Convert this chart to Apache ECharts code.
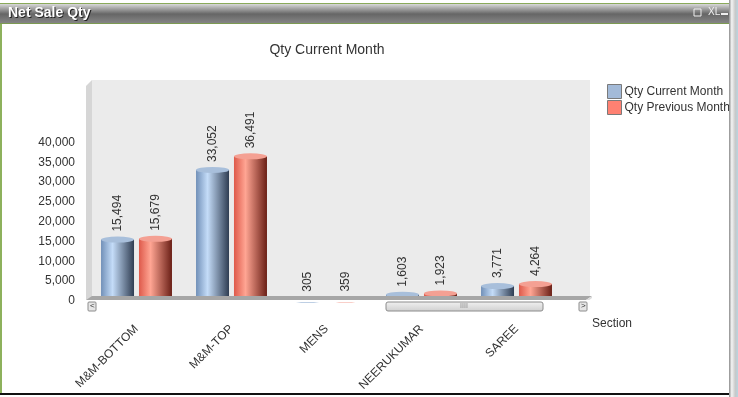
<!DOCTYPE html>
<html>
<head>
<meta charset="utf-8">
<script src="https://cdn.jsdelivr.net/npm/echarts@6/dist/echarts.min.js"></script>
<style>
html, body { margin: 0; padding: 0; background: #fff; }
#main { width: 738px; height: 397px; }
</style>
</head>
<body>
<div id="main"></div>
<script>
// 数据
var sections = ['M&M-BOTTOM', 'M&M-TOP', 'MENS', 'NEERUKUMAR', 'SAREE'];
var qtyCurrent = [15494, 33052, 305, 1603, 3771];
var qtyPrevious = [15679, 36491, 359, 1923, 4264];
var seriesNames = ['Qty Current Month', 'Qty Previous Month'];

var font = 'Liberation Sans, Arial, sans-serif';

function grad(c0, c1, c2) {//圆柱渐变
    return new echarts.graphic.LinearGradient(0, 0, 1, 0, [
        { offset: 0, color: c0 },
        { offset: 0.35, color: c1 },
        { offset: 1, color: c2 }
    ]);
}
var blueFill = grad('#7190b8', '#c4dcf8', '#2f3d52');
var redFill = grad('#de5a4b', '#ffa593', '#6a1f16');

function fmt(v) {
    return Number(v).toLocaleString('en-US');
}

var myChart = echarts.init(document.getElementById('main'));
var option = {
    backgroundColor: '#fff',
    animation: false,
    title: {
        text: 'Qty Current Month',
        left: 322,
        textAlign: 'center',
        top: 38,
        textStyle: { fontFamily: font, fontSize: 14, fontWeight: 'normal', color: '#333' }
    },
    legend: {
        data: [
            { name: seriesNames[0], itemStyle: { color: '#a3bad8', borderColor: '#7a7a7a', borderWidth: 1 } },
            { name: seriesNames[1], itemStyle: { color: '#ff8172', borderColor: '#7a7a7a', borderWidth: 1 } }
        ],
        orient: 'vertical',
        left: 607,
        top: 84,
        itemWidth: 14,
        itemHeight: 14,
        itemGap: 1,
        icon: 'rect',
        padding: 0,
        textStyle: { fontFamily: font, fontSize: 12, color: '#333', padding: [0, 0, 0, -2] }
    },
    grid: { left: 89, top: 83, width: 475, height: 218 },
    xAxis: {
        type: 'category',
        data: sections,
        axisLine: { show: false },
        axisTick: { show: false },
        axisLabel: {
            rotate: 45,
            margin: 26,
            interval: 0,
            fontFamily: font,
            fontSize: 12,
            color: '#333'
        }
    },
    yAxis: {
        type: 'value',
        min: 0,
        max: 55000,
        interval: 5000,
        splitLine: { show: false },
        axisLine: { show: false },
        axisTick: { show: false },
        axisLabel: {
            margin: 14,
            fontFamily: font,
            fontSize: 12,
            color: '#333',
            formatter: function (v) { return v <= 40000 ? fmt(v) : ''; }
        }
    },
    series: [
        {
            name: seriesNames[0],
            type: 'bar',
            data: qtyCurrent,
            barWidth: 33,
            barGap: '15%',
            itemStyle: { color: blueFill },
            label: {
                show: true,
                position: 'top',
                rotate: 90,
                align: 'left',
                verticalAlign: 'middle',
                distance: 8,
                fontFamily: font,
                fontSize: 12,
                color: '#333',
                formatter: function (p) { return fmt(p.value); }
            },
            z: 3
        },
        {
            name: seriesNames[1],
            type: 'bar',
            data: qtyPrevious,
            barWidth: 33,
            barGap: '15%',
            itemStyle: { color: redFill },
            label: {
                show: true,
                position: 'top',
                rotate: 90,
                align: 'left',
                verticalAlign: 'middle',
                distance: 8,
                fontFamily: font,
                fontSize: 12,
                color: '#333',
                formatter: function (p) { return fmt(p.value); }
            },
            z: 3
        },
        {//圆柱顶部
            name: seriesNames[0],
            type: 'pictorialBar',
            data: qtyCurrent,
            barWidth: 33,
            barGap: '15%',
            symbol: 'circle',
            symbolSize: [33, 6],
            symbolPosition: 'end',
            symbolOffset: [0, '-50%'],
            itemStyle: { color: '#a8bfdb' },
            z: 4
        },
        {
            name: seriesNames[1],
            type: 'pictorialBar',
            data: qtyPrevious,
            barWidth: 33,
            barGap: '15%',
            symbol: 'circle',
            symbolSize: [33, 6],
            symbolPosition: 'end',
            symbolOffset: [0, '-50%'],
            itemStyle: { color: '#f4a093' },
            z: 4
        }
    ],
    graphic: [
        // 标题栏
        { type: 'rect', shape: { x: 0, y: 3, width: 738, height: 1 }, style: { fill: '#8aaa5a' }, z: 0 },
        {
            type: 'rect', shape: { x: 0, y: 4, width: 738, height: 20 },
            style: {
                fill: new echarts.graphic.LinearGradient(0, 0, 0, 1, [
                    { offset: 0, color: '#d8d8d8' },
                    { offset: 0.5, color: '#666' },
                    { offset: 1, color: '#888' }
                ])
            }, z: 0
        },
        { type: 'rect', shape: { x: 0, y: 23, width: 738, height: 1 }, style: { fill: '#7c9a52' }, z: 0 },
        { type: 'text', x: 9, y: 7, style: { text: 'Net Sale Qty', fill: '#222', font: 'bold 14px ' + font }, z: 1 },
        { type: 'text', x: 8, y: 6, style: { text: 'Net Sale Qty', fill: '#fff', font: 'bold 14px ' + font }, z: 1 },
        { type: 'text', x: 708, y: 7, style: { text: 'XL', fill: '#eee', font: '10px ' + font }, z: 1 },
        { type: 'rect', shape: { x: 694, y: 9, width: 7, height: 7 }, style: { fill: 'none', stroke: '#eee', lineWidth: 1 }, z: 1 },
        { type: 'rect', shape: { x: 721, y: 13, width: 7, height: 2 }, style: { fill: '#eee' }, z: 1 },
        // 边框
        { type: 'rect', shape: { x: 0, y: 24, width: 2, height: 371 }, style: { fill: '#8db15c' }, z: 0 },
        { type: 'rect', shape: { x: 0, y: 393, width: 730, height: 2 }, style: { fill: '#111' }, z: 0 },
        {
            type: 'rect', shape: { x: 729, y: 0, width: 9, height: 397 },
            style: {
                fill: new echarts.graphic.LinearGradient(0, 0, 1, 0, [
                    { offset: 0, color: '#8a8a8a' },
                    { offset: 0.3, color: '#f4f4f4' },
                    { offset: 0.7, color: '#c8c8c8' },
                    { offset: 1, color: '#b8d4e0' }
                ])
            }, z: 100
        },
        // 背景墙
        { type: 'rect', shape: { x: 92, y: 80, width: 498, height: 217 }, style: { fill: '#ebebeb' }, z: -1 },
        { type: 'polygon', shape: { points: [[86, 86], [92, 80], [92, 297], [86, 300]] }, style: { fill: '#d6d6d6' }, z: -1 },
        { type: 'polygon', shape: { points: [[86, 300], [92, 296], [592, 296], [586, 300]] }, style: { fill: '#a6a6a6' }, z: 10 },
        { type: 'polygon', shape: { points: [[586, 300], [592, 296], [592, 298], [588, 301]] }, style: { fill: '#dcdcdc' }, z: 10 },
        { type: 'rect', shape: { x: 86, y: 300, width: 506, height: 2 }, style: { fill: '#fff' }, z: 10 },
        // 滚动条
        { type: 'rect', shape: { x: 88, y: 302, width: 8, height: 9, r: 1 }, style: { fill: '#e6e6e6', stroke: '#8c8c8c', lineWidth: 1 }, z: 11 },
        { type: 'text', x: 90, y: 302, style: { text: '<', fill: '#333', font: '8px ' + font }, z: 12 },
        { type: 'rect', shape: { x: 579, y: 302, width: 8, height: 9, r: 1 }, style: { fill: '#e6e6e6', stroke: '#8c8c8c', lineWidth: 1 }, z: 11 },
        { type: 'text', x: 581, y: 302, style: { text: '>', fill: '#333', font: '8px ' + font }, z: 12 },
        {
            type: 'rect', shape: { x: 386, y: 302, width: 157, height: 9, r: 2 },
            style: {
                fill: new echarts.graphic.LinearGradient(0, 0, 0, 1, [
                    { offset: 0, color: '#f2f2f2' },
                    { offset: 1, color: '#cfcfcf' }
                ]),
                stroke: '#8c8c8c', lineWidth: 1
            }, z: 11
        },
        { type: 'text', x: 464, y: 303, style: { text: 'IIII', fill: '#888', font: '7px ' + font, align: 'center' }, z: 12 },
        // 轴名
        { type: 'text', x: 592, y: 318, style: { text: 'Section', fill: '#333', font: '12px ' + font }, z: 1 }
    ]
};
myChart.setOption(option);
</script>
</body>
</html>
